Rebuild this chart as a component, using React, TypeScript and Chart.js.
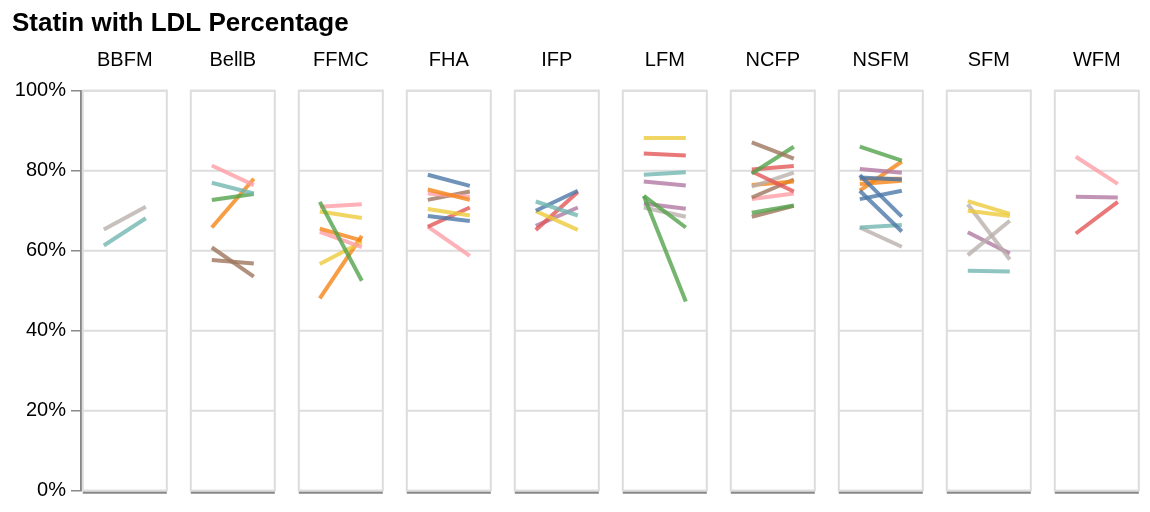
import React, { useEffect, useRef } from "react";
import { Chart, registerables } from "chart.js";

Chart.register(...registerables);

// ---- data ----
const chartTitle = "Statin with LDL Percentage";
const clinics = ["BBFM", "BellB", "FFMC", "FHA", "IFP", "LFM", "NCFP", "NSFM", "SFM", "WFM"];
const periods = ["First", "Second"];
const yTicks = [0, 20, 40, 60, 80, 100];

// one entry per line: clinic, colour group (provider index), value at first and second period
const lineClinic = [
  "BBFM", "BBFM",
  "BellB", "BellB", "BellB", "BellB", "BellB", "BellB",
  "FFMC", "FFMC", "FFMC", "FFMC", "FFMC", "FFMC", "FFMC",
  "FHA", "FHA", "FHA", "FHA", "FHA", "FHA", "FHA", "FHA",
  "IFP", "IFP", "IFP", "IFP", "IFP",
  "LFM", "LFM", "LFM", "LFM", "LFM", "LFM", "LFM", "LFM",
  "NCFP", "NCFP", "NCFP", "NCFP", "NCFP", "NCFP", "NCFP", "NCFP", "NCFP", "NCFP",
  "NSFM", "NSFM", "NSFM", "NSFM", "NSFM", "NSFM", "NSFM", "NSFM", "NSFM", "NSFM", "NSFM",
  "SFM", "SFM", "SFM", "SFM", "SFM", "SFM",
  "WFM", "WFM", "WFM",
];
const lineGroup = [
  9, 3,
  7, 3, 4, 1, 8, 8,
  4, 7, 5, 1, 7, 5, 1,
  0, 1, 7, 8, 5, 0, 2, 7,
  3, 0, 5, 2, 6,
  5, 2, 3, 6, 4, 4, 6, 9,
  8, 4, 2, 2, 9, 1, 8, 7, 4, 8,
  4, 6, 0, 0, 0, 0, 1, 1, 1, 3, 9,
  5, 5, 9, 9, 6, 3,
  7, 6, 2,
];
const firstValue = [
  65.3, 61.3,
  81.3, 77.0, 72.7, 65.8, 60.8, 57.7,
  72.2, 71.0, 69.8, 65.5, 64.7, 56.7, 48.1,
  79.0, 75.3, 74.3, 72.7, 70.4, 68.7, 66.0, 66.0,
  72.3, 70.0, 69.9, 65.2, 66.2,
  88.2, 84.3, 79.0, 77.3, 73.7, 73.7, 71.8, 70.8,
  87.1, 79.3, 80.3, 79.8, 76.0, 76.4, 73.3, 72.9, 69.5, 68.5,
  86.0, 80.4, 78.3, 78.9, 75.0, 72.9, 77.9, 76.7, 75.0, 65.8, 65.8,
  72.4, 70.0, 71.6, 58.9, 64.6, 55.0,
  83.5, 73.5, 64.3,
];
const secondValue = [
  71.0, 68.1,
  76.4, 74.3, 74.2, 78.0, 53.5, 56.8,
  52.5, 71.6, 68.2, 62.5, 60.9, 62.2, 63.7,
  76.2, 72.7, 73.5, 74.8, 68.8, 67.4, 70.8, 58.7,
  68.8, 75.0, 65.2, 74.7, 70.8,
  88.2, 83.8, 79.6, 76.3, 65.8, 47.3, 70.5, 68.5,
  83.0, 86.0, 81.2, 74.8, 79.5, 77.3, 77.8, 74.3, 71.3, 71.2,
  82.5, 79.5, 77.8, 68.5, 64.8, 75.0, 78.0, 77.5, 82.3, 66.4, 61.0,
  69.2, 68.7, 57.8, 67.5, 59.3, 54.8,
  76.7, 73.3, 72.2,
];

// ---- styles / layout ----
const palette = [
  "76,120,168", "245,133,24", "228,87,86", "114,183,178", "84,162,75",
  "238,202,59", "178,121,162", "255,157,166", "157,117,93", "186,176,172",
];
const FONT = "'Liberation Sans', Arial, Helvetica, sans-serif";
const PANEL_STEP = 9; // x units between panel starts
const PANEL_WIDTH = 7; // x units of a panel
const POINT_POS = [1.75, 5.25]; // x units of the two periods inside a panel

const panelPlugin = {
  id: "panels",
  beforeDatasetsDraw(chart: any) {
    const { ctx, scales } = chart;
    const x = scales.x;
    const y = scales.y;
    const top = y.getPixelForValue(100);
    const bottom = y.getPixelForValue(0);
    ctx.save();
    clinics.forEach((name, i) => {
      const l = x.getPixelForValue(i * PANEL_STEP);
      const r = x.getPixelForValue(i * PANEL_STEP + PANEL_WIDTH);
      ctx.strokeStyle = "#dddddd";
      ctx.lineWidth = 2;
      yTicks.forEach((t) => {
        const py = y.getPixelForValue(t);
        ctx.beginPath();
        ctx.moveTo(l, py);
        ctx.lineTo(r, py);
        ctx.stroke();
      });
      ctx.strokeRect(l, top, r - l, bottom - top);
      ctx.strokeStyle = "#888888";
      ctx.lineWidth = 2;
      ctx.beginPath();
      ctx.moveTo(l, bottom + 2);
      ctx.lineTo(r, bottom + 2);
      ctx.stroke();
      ctx.fillStyle = "#000";
      ctx.font = `20px ${FONT}`;
      ctx.textAlign = "center";
      ctx.textBaseline = "alphabetic";
      ctx.fillText(name, (l + r) / 2, 66);
    });
    ctx.fillStyle = "#000";
    ctx.font = `bold 26px ${FONT}`;
    ctx.textAlign = "left";
    ctx.fillText(chartTitle, 12, 31);
    ctx.restore();
  },
};

export default function App() {
  const ref = useRef<HTMLCanvasElement | null>(null);
  useEffect(() => {
    if (!ref.current) return;
    const datasets = lineClinic.map((c, k) => {
      const pi = clinics.indexOf(c);
      return {
        label: `${c}-${k}`,
        data: periods.map((p, j) => ({
          x: pi * PANEL_STEP + POINT_POS[j],
          y: j === 0 ? firstValue[k] : secondValue[k],
        })),
        borderColor: `rgba(${palette[lineGroup[k]]},0.8)`,
        borderWidth: 4,
        borderCapStyle: "butt" as const,
        pointRadius: 0,
        fill: false,
        tension: 0,
      };
    });
    const chart = new Chart(ref.current, {
      type: "line",
      data: { datasets },
      plugins: [panelPlugin],
      options: {
        animation: false,
        responsive: false,
        events: [],
        layout: { padding: { left: 0, right: 11.2, top: 90.7, bottom: 21.3 } },
        plugins: { legend: { display: false }, title: { display: false }, tooltip: { enabled: false } },
        scales: {
          x: { type: "linear", min: -0.15, max: PANEL_STEP * (clinics.length - 1) + PANEL_WIDTH, display: false },
          y: {
            type: "linear",
            min: 0,
            max: 100,
            afterFit: (s: any) => {
              s.width = 81;
            },
            afterBuildTicks: (s: any) => {
              s.ticks = yTicks.map((v) => ({ value: v }));
            },
            ticks: {
              callback: (v: any) => `${v}%`,
              color: "#000",
              font: { size: 20, family: FONT },
              padding: 5,
            },
            grid: { drawOnChartArea: false, drawTicks: true, tickLength: 10, color: "#888888", lineWidth: 1.5 },
            border: { display: true, color: "#888888", width: 2 },
          },
        },
      },
    });
    return () => chart.destroy();
  }, []);
  return (
    <div style={{ position: "absolute", left: 0, top: 0, width: 1150, height: 512, background: "#fff" }}>
      <canvas ref={ref} width={1150} height={512} style={{ width: 1150, height: 512, display: "block" }} />
    </div>
  );
}
